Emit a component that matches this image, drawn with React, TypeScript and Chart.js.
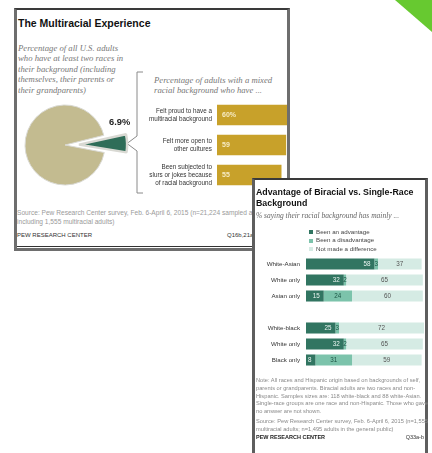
import React, { useEffect, useRef } from "react";
import { Chart, registerables } from "chart.js";
Chart.register(...registerables);

const SANS = "'Liberation Sans', Arial, sans-serif";
const SERIF = "'Liberation Serif', 'Times New Roman', serif";

// ---- data ----
const pieLabels = ["Multiracial background", "Single race"];
const pieValues = [6.9, 93.1];

const experienceLabels = [
  ["Felt proud to have a", "multiracial background"],
  ["Felt more open to", "other cultures"],
  ["Been subjected to", "slurs or jokes because", "of racial background"],
];
const experienceValues = [60, 59, 55];

const groupLabels = ["White-Asian", "White only", "Asian only", "", "White-black", "White only", "Black only"];
const seriesNames = ["Been an advantage", "Been a disadvantage", "Not made a difference"];
const advantageValues = [58, 32, 15, null, 25, 32, 8];
const disadvantageValues = [3, 2, 24, null, 3, 2, 31];
const noDifferenceValues = [37, 65, 60, null, 72, 65, 59];

const seriesColors = ["#317561", "#7cc3ab", "#d5ebe4"];
const seriesTextColors = ["#eaf5f1", "#1d5646", "#555555"];

type TP = {
  x: number; y: number; size: number; children: React.ReactNode; weight?: number;
  color?: string; italic?: boolean; serif?: boolean; right?: boolean;
};
function T({ x, y, size, children, weight = 400, color = "#333", italic = false, serif = false, right = false }: TP) {
  const st: React.CSSProperties = {
    position: "absolute",
    top: y - size * 0.5,
    fontSize: size,
    lineHeight: `${size}px`,
    fontFamily: serif ? SERIF : SANS,
    fontWeight: weight,
    fontStyle: italic ? "italic" : "normal",
    color,
    whiteSpace: "nowrap",
  };
  if (right) st.right = 432 - x; else st.left = x;
  return <div style={st}>{children}</div>;
}

function PieChart() {
  const ref = useRef<HTMLCanvasElement>(null);
  useEffect(() => {
    const c = new Chart(ref.current!, {
      type: "pie",
      data: {
        labels: pieLabels,
        datasets: [{
          data: pieValues,
          backgroundColor: ["#2f6d58", "#c3bb90"],
          borderColor: ["#d9d9d3", "#d9d9d3"],
          borderWidth: [2.5, 1],
          offset: [56, 0],
        }],
      },
      options: {
        responsive: false,
        animation: false,
        radius: 40,
        rotation: 76,
        layout: { padding: 0 },
        plugins: { legend: { display: false }, tooltip: { enabled: false } },
      } as any,
    });
    return () => c.destroy();
  }, []);
  return <canvas ref={ref} width={130} height={120} style={{ position: "absolute", left: 0, top: 85, width: 130, height: 120 }} />;
}

function GoldBars() {
  const ref = useRef<HTMLCanvasElement>(null);
  useEffect(() => {
    const valuePlugin = {
      id: "goldValues",
      afterDatasetsDraw(chart: any) {
        const ctx = chart.ctx;
        const meta = chart.getDatasetMeta(0);
        ctx.save();
        ctx.font = `bold 7px ${SANS}`;
        ctx.fillStyle = "#f6ebc4";
        ctx.textAlign = "left";
        ctx.textBaseline = "middle";
        meta.data.forEach((bar: any, i: number) => {
          const p = bar.getProps(["base", "y"], true);
          const v = chart.data.datasets[0].data[i];
          ctx.fillText(i === 0 ? `${v}%` : `${v}`, p.base + 5, p.y + 0.5);
        });
        ctx.restore();
      },
    };
    const c = new Chart(ref.current!, {
      type: "bar",
      data: {
        labels: experienceLabels,
        datasets: [{ data: experienceValues, backgroundColor: "#c8a12a", barThickness: 20 }],
      },
      options: {
        indexAxis: "y",
        responsive: false,
        animation: false,
        layout: { padding: 0 },
        plugins: { legend: { display: false }, tooltip: { enabled: false } },
        scales: {
          x: { display: false, min: 0, max: 60 },
          y: {
            grid: { display: false, drawTicks: false },
            border: { display: false },
            ticks: { color: "#333", padding: 5, font: { size: 6.3, family: SANS, lineHeight: 1.3 } },
            afterFit: (s: any) => { s.width = 87; s.paddingTop = 0; s.paddingBottom = 0; },
          },
        },
      } as any,
      plugins: [valuePlugin],
    });
    return () => c.destroy();
  }, []);
  return <canvas ref={ref} width={157} height={90} style={{ position: "absolute", left: 130, top: 100, width: 157, height: 90 }} />;
}

function StackedBars() {
  const ref = useRef<HTMLCanvasElement>(null);
  useEffect(() => {
    const labelPlugin = {
      id: "stackValues",
      afterDatasetsDraw(chart: any) {
        const ctx = chart.ctx;
        ctx.save();
        ctx.font = `6.3px ${SANS}`;
        ctx.textBaseline = "middle";
        chart.data.datasets.forEach((ds: any, d: number) => {
          const meta = chart.getDatasetMeta(d);
          meta.data.forEach((bar: any, i: number) => {
            const v = ds.data[i];
            if (v === null || v === undefined) return;
            const p = bar.getProps(["x", "base", "y"], true);
            ctx.fillStyle = seriesTextColors[d];
            if (d === 0) {
              ctx.textAlign = "right";
              ctx.fillText(String(v), p.x - 4, p.y + 0.5);
            } else {
              ctx.textAlign = "center";
              ctx.fillText(String(v), (p.x + p.base) / 2, p.y + 0.5);
            }
          });
        });
        ctx.restore();
      },
    };
    const c = new Chart(ref.current!, {
      type: "bar",
      data: {
        labels: groupLabels,
        datasets: [
          { label: seriesNames[0], data: advantageValues, backgroundColor: seriesColors[0] },
          { label: seriesNames[1], data: disadvantageValues, backgroundColor: seriesColors[1] },
          { label: seriesNames[2], data: noDifferenceValues, backgroundColor: seriesColors[2] },
        ],
      },
      options: {
        indexAxis: "y",
        responsive: false,
        animation: false,
        layout: { padding: 0 },
        datasets: { bar: { barPercentage: 0.69, categoryPercentage: 1 } },
        plugins: { legend: { display: false }, tooltip: { enabled: false } },
        scales: {
          x: { display: false, stacked: true, min: 0, max: 100 },
          y: {
            stacked: true,
            grid: { display: false, drawTicks: false },
            border: { display: false },
            ticks: { color: "#333", padding: 6, font: { size: 6.2, family: SANS } },
            afterFit: (s: any) => { s.width = 66; s.paddingTop = 0; s.paddingBottom = 0; },
          },
        },
      } as any,
      plugins: [labelPlugin],
    });
    return () => c.destroy();
  }, []);
  return <canvas ref={ref} width={184} height={112} style={{ position: "absolute", left: 240, top: 256, width: 184, height: 112 }} />;
}

const leftSub = [
  "Percentage of all U.S. adults",
  "who have at least two races in",
  "their background (including",
  "themselves, their parents or",
  "their grandparents)",
];
const rightSub = ["Percentage of adults with a mixed", "racial background who have ..."];
const noteLines = [
  "Note: All races and Hispanic origin based on backgrounds of self,",
  "parents or grandparents. Biracial adults are two races and non-",
  "Hispanic. Samples sizes are: 118 white-black and 88 white-Asian.",
  "Single-race groups are one race and non-Hispanic. Those who gave",
  "no answer are not shown.",
];
const noteY = [381, 389, 396.5, 404, 411.5];

export default function App() {
  useEffect(() => {
    document.body.style.margin = "0";
  }, []);
  return (
    <div style={{ position: "absolute", left: 0, top: 0, width: 432, height: 453, overflow: "hidden", background: "#fff" }}>
      {/* green corner */}
      <div style={{ position: "absolute", left: 0, top: 0, width: 432, height: 453, background: "#67c930", clipPath: "polygon(395px 0, 432px 0, 432px 32px)" }} />

      {/* left card */}
      <div style={{ position: "absolute", left: 14, top: 8, width: 270, height: 238, borderTop: "2px solid #3a3a3a", borderLeft: "3px solid #6e6e6e", borderRight: "3px solid #6e6e6e", borderBottom: "3px solid #6e6e6e", background: "#fff" }} />
      <div style={{ position: "absolute", left: 17, top: 246, width: 270, height: 1, background: "#333" }} />
      <T x={18} y={23} size={10.5} weight={700} color="#111">The Multiracial Experience</T>
      {leftSub.map((s, i) => (
        <T key={i} x={18} y={48 + i * 10.6} size={8.7} italic serif color="#777">{s}</T>
      ))}
      {rightSub.map((s, i) => (
        <T key={i} x={154} y={80 + i * 10.6} size={8.7} italic serif color="#777">{s}</T>
      ))}
      <svg width={432} height={453} style={{ position: "absolute", left: 0, top: 0 }}>
        <polyline points="143,72 137,72 137,136 127,143.5 137,151 137,193 143,193" fill="none" stroke="#8a8a8a" strokeWidth={1} />
      </svg>
      <PieChart />
      <T x={109} y={123} size={9.3} weight={700} color="#222">{`${pieValues[0]}%`}</T>
      <GoldBars />
      <T x={17} y={213} size={6.6} color="#9a9a9a">Source: Pew Research Center survey, Feb. 6-April 6, 2015 (n=21,224 sampled adults,</T>
      <T x={17} y={222.5} size={6.6} color="#9a9a9a">including 1,555 multiracial adults)</T>
      <T x={17} y={235} size={6} color="#333">PEW RESEARCH CENTER</T>
      <T x={227} y={235} size={6} color="#333">Q16b,21a-c</T>

      {/* right card */}
      <div style={{ position: "absolute", left: 252, top: 178, width: 170, height: 290, borderTop: "2px solid #3a3a3a", borderLeft: "3px solid #5e5e5e", borderRight: "3px solid #5e5e5e", background: "#fff" }} />
      <T x={256} y={192} size={8.8} weight={700} color="#111">Advantage of Biracial vs. Single-Race</T>
      <T x={256} y={203.5} size={8.8} weight={700} color="#111">Background</T>
      <T x={256} y={216} size={7.5} italic serif color="#666">% saying their racial background has mainly ...</T>
      {seriesNames.map((n, i) => (
        <React.Fragment key={i}>
          <div style={{ position: "absolute", left: 309, top: 230 + i * 8.5, width: 4, height: 4, background: seriesColors[i] }} />
          <T x={316} y={232 + i * 8.5} size={6.2} color="#444">{n}</T>
        </React.Fragment>
      ))}
      <StackedBars />
      {noteLines.map((s, i) => (
        <T key={i} x={256} y={noteY[i]} size={5.7} color="#8a8a8a">{s}</T>
      ))}
      <T x={256} y={422} size={5.7} color="#8a8a8a">Source: Pew Research Center survey, Feb. 6-April 6, 2015 (n=1,555</T>
      <T x={256} y={429.5} size={5.7} color="#8a8a8a">multiracial adults; n=1,495 adults in the general public)</T>
      <T x={256} y={437.5} size={5.5} weight={700} color="#222">PEW RESEARCH CENTER</T>
      <T x={424} y={437.5} size={5.5} color="#333" right>Q33a-b</T>
    </div>
  );
}
